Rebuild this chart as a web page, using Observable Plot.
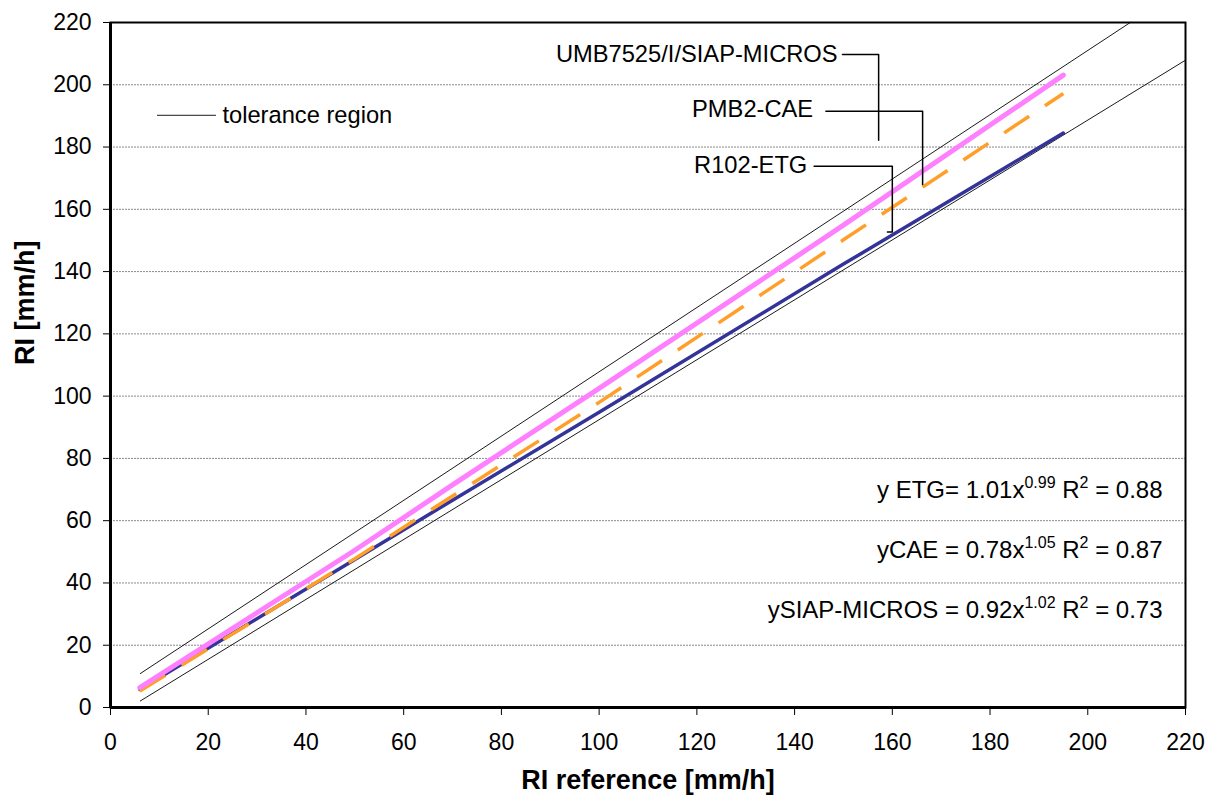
<!DOCTYPE html>
<html><head><meta charset="utf-8">
<script src="https://cdn.jsdelivr.net/npm/d3@7"></script>
<script src="https://cdn.jsdelivr.net/npm/@observablehq/plot@0.6"></script>
<style>body{margin:0;background:#fff;}</style>
</head><body><div id="chart"></div>
<script>
// Reference rain intensity (x) and gauge readings (y) along each fitted line
const xRef = [6, 50, 70, 100, 150, 195];
const siap = [6.4, 50.5, 71.5, 102.5, 154.9, 203.1];
const cae  = [5.3, 47.8, 67.9, 98.0, 150.2, 197.2];
const etg  = [5.8, 47.5, 66.6, 94.8, 142.4, 184.5];

// Tolerance region bounds
const tolUpperX = [6.1, 208.7];
const tolUpperY = [10.9, 220];
const tolLowerX = [6.1, 220];
const tolLowerY = [2.1, 207.9];

// Axis ticks
const xTicks = [0, 20, 40, 60, 80, 100, 120, 140, 160, 180, 200, 220];
const yTicks = [0, 20, 40, 60, 80, 100, 120, 140, 160, 180, 200, 220];
const gridY = [20, 40, 60, 80, 100, 120, 140, 160, 180, 200];

// Series labels and leader lines (data coordinates)
const seriesLabels = ["UMB7525/I/SIAP-MICROS", "PMB2-CAE", "R102-ETG"];
const labelX = [148.8, 143.8, 142.6];
const labelY = [209.8, 192.0, 174.1];
const leaderSiap = [[149.8, 209.7], [157.2, 209.7], [157.2, 182.2]];
const leaderCae  = [[146.4, 191.5], [166.2, 191.5], [166.2, 168.0]];
const leaderEtg  = [[144.0, 173.8], [160.0, 173.8], [160.0, 152.7], [159.0, 152.7]];

// Legend for tolerance region
const legendLineX = [9.6, 21.5];
const legendLineY = [190.2, 190.2];
const legendText = "tolerance region";
const legendTextX = 22.9;
const legendTextY = 190.2;

// Regression equations
const equations = [
  "y ETG= 1.01x^{0.99} R^{2} = 0.88",
  "yCAE = 0.78x^{1.05} R^{2} = 0.87",
  "ySIAP-MICROS = 0.92x^{1.02} R^{2} = 0.73"
];
const eqX = 215.3;
const eqY = [69.6, 50.4, 31.3];

const xTitle = "RI reference [mm/h]";
const yTitle = "RI [mm/h]";

const pts = (xs, ys) => xs.map((x, i) => ({x, y: ys[i]}));
const pairs = (arr) => arr.map(([x, y]) => ({x, y}));

const chart = Plot.plot({
  width: 1211,
  height: 802,
  marginLeft: 110,
  marginRight: 26,
  marginTop: 22,
  marginBottom: 95,
  style: {fontFamily: "'Liberation Sans', Arial, sans-serif", fontSize: "23px", background: "#fff", color: "#000"},
  x: {domain: [0, 220]},
  y: {domain: [0, 220]},
  marks: [
    Plot.ruleY(gridY, {stroke: "#8a8a8a", strokeDasharray: "2,1", strokeWidth: 1}),
    Plot.axisX({ticks: xTicks, tickSize: 8, tickPadding: 18, label: null, fontSize: 23}),
    Plot.axisY({ticks: yTicks, tickSize: 7, tickPadding: 12, label: null, fontSize: 23}),
    Plot.frame({stroke: "#000", strokeWidth: 2}),
    Plot.ruleX([0], {stroke: "#000", strokeWidth: 3}),
    Plot.ruleY([0], {stroke: "#000", strokeWidth: 3}),
    Plot.line(pts(tolUpperX, tolUpperY), {x: "x", y: "y", stroke: "#000", strokeWidth: 0.9}),
    Plot.line(pts(tolLowerX, tolLowerY), {x: "x", y: "y", stroke: "#000", strokeWidth: 0.9}),
    Plot.line(pts(xRef, etg), {x: "x", y: "y", stroke: "#333399", strokeWidth: 3.5}),
    Plot.line(pts(xRef, cae), {x: "x", y: "y", stroke: "#ff9f2a", strokeWidth: 3.5, strokeDasharray: "30,19", strokeLinecap: "butt"}),
    Plot.line(pts(xRef, siap), {x: "x", y: "y", stroke: "#ff80ff", strokeWidth: 5}),
    Plot.line(pairs(leaderSiap), {x: "x", y: "y", stroke: "#000", strokeWidth: 1.5}),
    Plot.line(pairs(leaderCae), {x: "x", y: "y", stroke: "#000", strokeWidth: 1.5}),
    Plot.line(pairs(leaderEtg), {x: "x", y: "y", stroke: "#000", strokeWidth: 1.5}),
    Plot.text(seriesLabels.map((t, i) => ({t, x: labelX[i], y: labelY[i]})), {x: "x", y: "y", text: "t", textAnchor: "end", fontSize: 23.7, fill: "#000"}),
    Plot.line(pts(legendLineX, legendLineY), {x: "x", y: "y", stroke: "#000", strokeWidth: 0.9}),
    Plot.text([{t: legendText, x: legendTextX, y: legendTextY}], {x: "x", y: "y", text: "t", textAnchor: "start", fontSize: 23.7, fill: "#000"}),
    Plot.text(equations.map((t, i) => ({t, x: eqX, y: eqY[i]})), {x: "x", y: "y", text: "t", textAnchor: "end", fontSize: 24, fill: "#000"}),
    Plot.text([xTitle], {text: d => d, frameAnchor: "bottom", lineAnchor: "middle", dy: 73, fontSize: 27, fontWeight: "bold", fill: "#000"}),
    Plot.text([yTitle], {text: d => d, frameAnchor: "left", lineAnchor: "middle", rotate: -90, dx: -85, fontSize: 27, fontWeight: "bold", fill: "#000"})
  ]
});
document.getElementById("chart").append(chart);

// Render ^{...} as superscripts
d3.select(chart).selectAll("text").each(function() {
  const s = this.textContent;
  if (!s.includes("^{")) return;
  const parts = s.split(/\^\{([^}]*)\}/);
  const el = d3.select(this);
  el.text("");
  let shifted = false;
  parts.forEach((p, i) => {
    if (p === "") return;
    const sup = i % 2 === 1;
    const ts = el.append("tspan").text(p);
    if (sup) {
      ts.attr("font-size", 16).attr("dy", -10);
      shifted = true;
    } else if (shifted) {
      ts.attr("dy", 10);
      shifted = false;
    }
  });
});
</script>
</body></html>
